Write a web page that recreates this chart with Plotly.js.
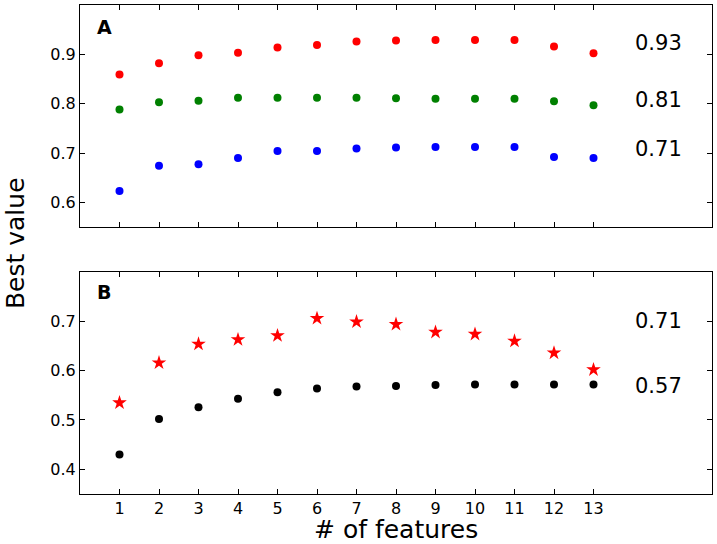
<!DOCTYPE html>
<html>
<head>
<meta charset="utf-8">
<script src="https://cdn.plot.ly/plotly-3.0.1.min.js"></script>
<style>
  html, body { margin: 0; padding: 0; background: #fff; }
  #plot { width: 717px; height: 544px; }
</style>
</head>
<body>
<div id="plot"></div>
<script>
// number of features on x
const features = [1, 2, 3, 4, 5, 6, 7, 8, 9, 10, 11, 12, 13];

// panel A
const redA   = [0.859, 0.882, 0.898, 0.903, 0.914, 0.919, 0.926, 0.928, 0.929, 0.929, 0.929, 0.916, 0.902];
const greenA = [0.788, 0.803, 0.806, 0.812, 0.812, 0.812, 0.812, 0.811, 0.810, 0.810, 0.810, 0.805, 0.797];
const blueA  = [0.623, 0.674, 0.677, 0.690, 0.704, 0.704, 0.709, 0.711, 0.712, 0.712, 0.712, 0.692, 0.690];

// panel B
const starsB = [0.535, 0.616, 0.654, 0.663, 0.671, 0.706, 0.699, 0.694, 0.678, 0.674, 0.660, 0.636, 0.602];
const blackB = [0.430, 0.502, 0.526, 0.543, 0.556, 0.564, 0.568, 0.569, 0.571, 0.572, 0.572, 0.572, 0.572];

// best values written at right
const bestA = ['0.93', '0.81', '0.71'];
const bestAPos = [0.923, 0.807, 0.708];
const bestB = ['0.71', '0.57'];
const bestBPos = [0.7005, 0.569];

const font = 'DejaVu Sans, sans-serif';

function dots(y, color, xa, ya, symbol, size) {
    return {
        x: features, y: y, xaxis: xa, yaxis: ya,
        type: 'scatter', mode: 'markers',
        marker: { color: color, size: size, symbol: symbol, line: { width: 0 } },
        showlegend: false, hoverinfo: 'x+y'
    };
}

const traces = [
    dots(redA, '#ff0000', 'x', 'y', 'circle', 8),
    dots(greenA, '#008000', 'x', 'y', 'circle', 8),
    dots(blueA, '#0000ff', 'x', 'y', 'circle', 8),
    dots(starsB, '#ff0000', 'x2', 'y2', 'star', 11),
    dots(blackB, '#000000', 'x2', 'y2', 'circle', 8)
];

const axisCommon = {
    showline: true, linecolor: '#000', linewidth: 1, mirror: 'allticks',
    ticks: 'inside', ticklen: 5, tickwidth: 1, tickcolor: '#000',
    showgrid: false, zeroline: false,
    tickfont: { family: font, size: 16, color: '#000' }
};

let annotations = [];
bestA.forEach((t, i) => annotations.push({
    xref: 'x', yref: 'y', x: 14, y: bestAPos[i], text: t, showarrow: false,
    xanchor: 'left', yanchor: 'middle', font: { family: font, size: 21, color: '#000' }
}));
bestB.forEach((t, i) => annotations.push({
    xref: 'x2', yref: 'y2', x: 14, y: bestBPos[i], text: t, showarrow: false,
    xanchor: 'left', yanchor: 'middle', font: { family: font, size: 21, color: '#000' }
}));
annotations.push(
    { xref: 'paper', yref: 'paper', x: 0.024, y: 0.955, text: '<b>A</b>', showarrow: false,
      xanchor: 'left', yanchor: 'middle', font: { family: font, size: 19, color: '#000' } },
    { xref: 'paper', yref: 'paper', x: 0.024, y: 0.414, text: '<b>B</b>', showarrow: false,
      xanchor: 'left', yanchor: 'middle', font: { family: font, size: 19, color: '#000' } },
    { xref: 'paper', yref: 'paper', x: -0.103, y: 0.513, text: 'Best value', showarrow: false,
      textangle: -90, xanchor: 'center', yanchor: 'middle', font: { family: font, size: 25, color: '#000' } },
    { xref: 'paper', yref: 'paper', x: 0.5, y: -0.073, text: '# of features', showarrow: false,
      xanchor: 'center', yanchor: 'middle', font: { family: font, size: 25, color: '#000' } }
);

const layout = {
    width: 717, height: 544,
    margin: { l: 80, r: 5, t: 5, b: 50 },
    paper_bgcolor: '#fff', plot_bgcolor: '#fff',
    xaxis: Object.assign({}, axisCommon, {
        domain: [0, 1], range: [0, 16], tickvals: features, showticklabels: false, anchor: 'y'
    }),
    yaxis: Object.assign({}, axisCommon, {
        domain: [0.546, 1], range: [0.55, 1.0], tickvals: [0.6, 0.7, 0.8, 0.9], anchor: 'x'
    }),
    xaxis2: Object.assign({}, axisCommon, {
        domain: [0, 1], range: [0, 16], tickvals: features, anchor: 'y2'
    }),
    yaxis2: Object.assign({}, axisCommon, {
        domain: [0, 0.454], range: [0.35, 0.8], tickvals: [0.4, 0.5, 0.6, 0.7], anchor: 'x2'
    }),
    annotations: annotations
};

Plotly.newPlot('plot', traces, layout, { displayModeBar: false, staticPlot: true });
</script>
</body>
</html>
